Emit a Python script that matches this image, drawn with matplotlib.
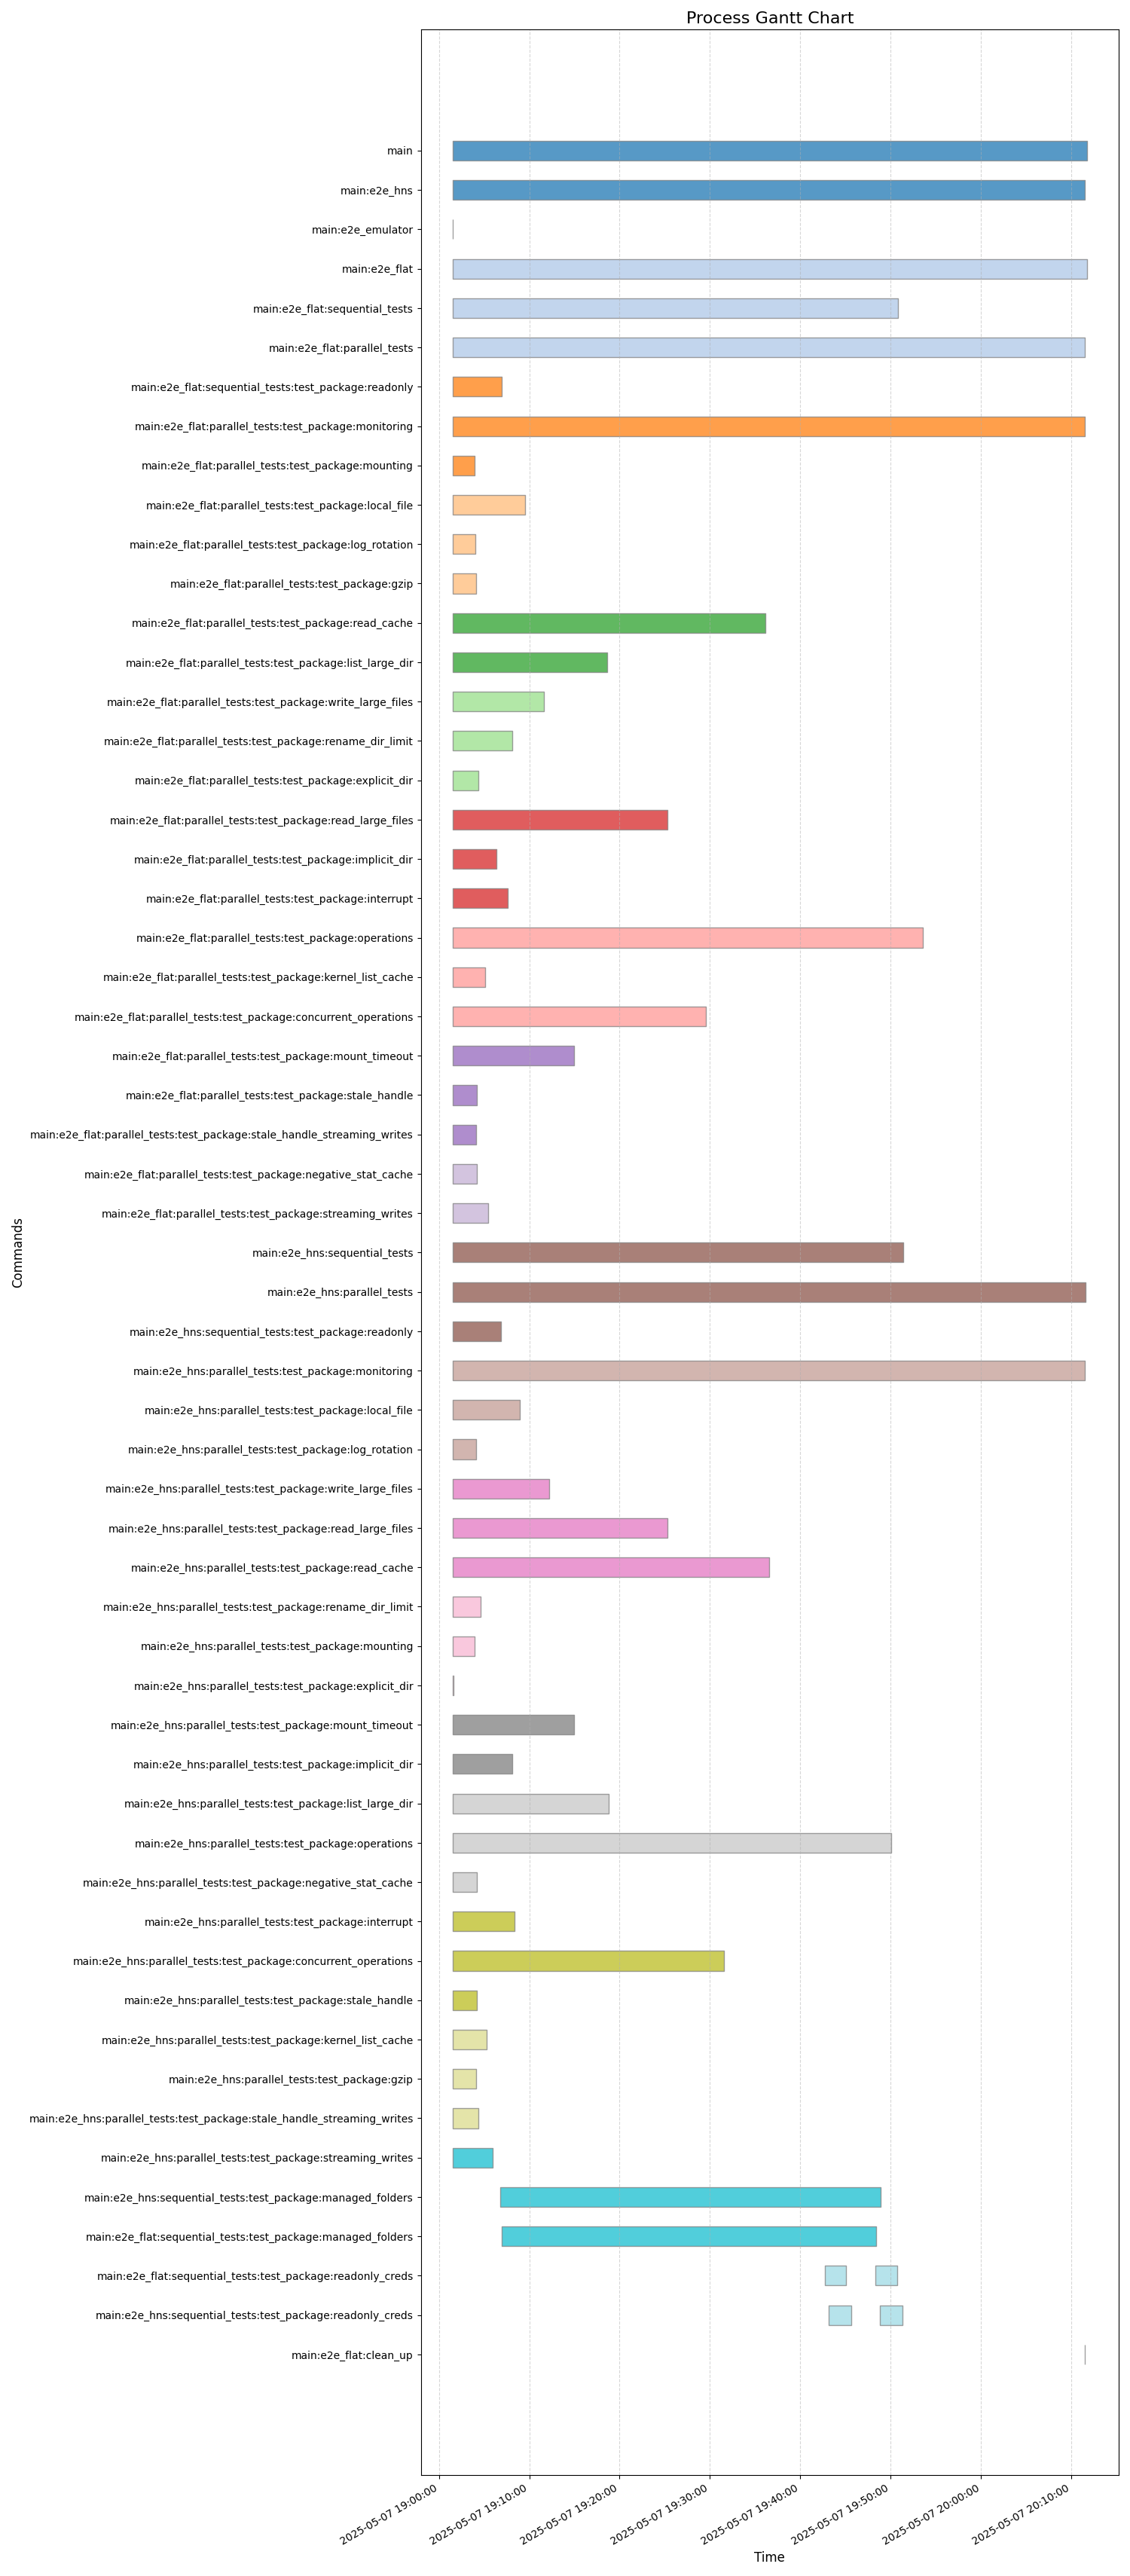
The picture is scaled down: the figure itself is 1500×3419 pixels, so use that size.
import matplotlib
matplotlib.use("Agg")
import matplotlib.pyplot as plt
import matplotlib.dates as mdates
import numpy as np
import pandas as pd

DAY = "2025-05-07 "

commands = [
    "main",
    "main:e2e_hns",
    "main:e2e_emulator",
    "main:e2e_flat",
    "main:e2e_flat:sequential_tests",
    "main:e2e_flat:parallel_tests",
    "main:e2e_flat:sequential_tests:test_package:readonly",
    "main:e2e_flat:parallel_tests:test_package:monitoring",
    "main:e2e_flat:parallel_tests:test_package:mounting",
    "main:e2e_flat:parallel_tests:test_package:local_file",
    "main:e2e_flat:parallel_tests:test_package:log_rotation",
    "main:e2e_flat:parallel_tests:test_package:gzip",
    "main:e2e_flat:parallel_tests:test_package:read_cache",
    "main:e2e_flat:parallel_tests:test_package:list_large_dir",
    "main:e2e_flat:parallel_tests:test_package:write_large_files",
    "main:e2e_flat:parallel_tests:test_package:rename_dir_limit",
    "main:e2e_flat:parallel_tests:test_package:explicit_dir",
    "main:e2e_flat:parallel_tests:test_package:read_large_files",
    "main:e2e_flat:parallel_tests:test_package:implicit_dir",
    "main:e2e_flat:parallel_tests:test_package:interrupt",
    "main:e2e_flat:parallel_tests:test_package:operations",
    "main:e2e_flat:parallel_tests:test_package:kernel_list_cache",
    "main:e2e_flat:parallel_tests:test_package:concurrent_operations",
    "main:e2e_flat:parallel_tests:test_package:mount_timeout",
    "main:e2e_flat:parallel_tests:test_package:stale_handle",
    "main:e2e_flat:parallel_tests:test_package:stale_handle_streaming_writes",
    "main:e2e_flat:parallel_tests:test_package:negative_stat_cache",
    "main:e2e_flat:parallel_tests:test_package:streaming_writes",
    "main:e2e_hns:sequential_tests",
    "main:e2e_hns:parallel_tests",
    "main:e2e_hns:sequential_tests:test_package:readonly",
    "main:e2e_hns:parallel_tests:test_package:monitoring",
    "main:e2e_hns:parallel_tests:test_package:local_file",
    "main:e2e_hns:parallel_tests:test_package:log_rotation",
    "main:e2e_hns:parallel_tests:test_package:write_large_files",
    "main:e2e_hns:parallel_tests:test_package:read_large_files",
    "main:e2e_hns:parallel_tests:test_package:read_cache",
    "main:e2e_hns:parallel_tests:test_package:rename_dir_limit",
    "main:e2e_hns:parallel_tests:test_package:mounting",
    "main:e2e_hns:parallel_tests:test_package:explicit_dir",
    "main:e2e_hns:parallel_tests:test_package:mount_timeout",
    "main:e2e_hns:parallel_tests:test_package:implicit_dir",
    "main:e2e_hns:parallel_tests:test_package:list_large_dir",
    "main:e2e_hns:parallel_tests:test_package:operations",
    "main:e2e_hns:parallel_tests:test_package:negative_stat_cache",
    "main:e2e_hns:parallel_tests:test_package:interrupt",
    "main:e2e_hns:parallel_tests:test_package:concurrent_operations",
    "main:e2e_hns:parallel_tests:test_package:stale_handle",
    "main:e2e_hns:parallel_tests:test_package:kernel_list_cache",
    "main:e2e_hns:parallel_tests:test_package:gzip",
    "main:e2e_hns:parallel_tests:test_package:stale_handle_streaming_writes",
    "main:e2e_hns:parallel_tests:test_package:streaming_writes",
    "main:e2e_hns:sequential_tests:test_package:managed_folders",
    "main:e2e_flat:sequential_tests:test_package:managed_folders",
    "main:e2e_flat:sequential_tests:test_package:readonly_creds",
    "main:e2e_hns:sequential_tests:test_package:readonly_creds",
    "main:e2e_flat:clean_up",
]

# One entry per bar segment: command index, start, end
seg_rows = [0, 1, 2, 3, 4, 5, 6, 7, 8, 9, 10, 11, 12, 13, 14, 15, 16, 17, 18, 19,
            20, 21, 22, 23, 24, 25, 26, 27, 28, 29, 30, 31, 32, 33, 34, 35, 36, 37,
            38, 39, 40, 41, 42, 43, 44, 45, 46, 47, 48, 49, 50, 51, 52, 53,
            54, 54, 55, 55, 56]
seg_start = [
    "19:01:31", "19:01:31", "19:01:31", "19:01:31", "19:01:34", "19:01:34",
    "19:01:34", "19:01:34", "19:01:34", "19:01:34", "19:01:34", "19:01:34",
    "19:01:34", "19:01:34", "19:01:34", "19:01:34", "19:01:34", "19:01:34",
    "19:01:34", "19:01:34", "19:01:34", "19:01:34", "19:01:34", "19:01:34",
    "19:01:34", "19:01:34", "19:01:34", "19:01:34", "19:01:31", "19:01:31",
    "19:01:31", "19:01:34", "19:01:34", "19:01:34", "19:01:34", "19:01:34",
    "19:01:34", "19:01:34", "19:01:34", "19:01:34", "19:01:34", "19:01:34",
    "19:01:34", "19:01:34", "19:01:34", "19:01:34", "19:01:34", "19:01:34",
    "19:01:34", "19:01:34", "19:01:34", "19:01:34", "19:06:46", "19:06:57",
    "19:42:41", "19:48:19", "19:43:09", "19:48:49", "20:11:28",
]
seg_end = [
    "20:11:43", "20:11:31", "19:01:33", "20:11:43", "19:50:47", "20:11:31",
    "19:06:59", "20:11:31", "19:03:57", "19:09:31", "19:04:00", "19:04:06",
    "19:36:10", "19:18:37", "19:11:38", "19:08:08", "19:04:21", "19:25:20",
    "19:06:22", "19:07:35", "19:53:34", "19:05:07", "19:29:35", "19:14:55",
    "19:04:12", "19:04:06", "19:04:12", "19:05:28", "19:51:23", "20:11:34",
    "19:06:50", "20:11:31", "19:08:57", "19:04:06", "19:12:11", "19:25:20",
    "19:36:31", "19:04:36", "19:03:57", "19:01:37", "19:14:55", "19:08:05",
    "19:18:46", "19:50:02", "19:04:12", "19:08:21", "19:31:31", "19:04:12",
    "19:05:19", "19:04:06", "19:04:21", "19:05:58", "19:48:54", "19:48:21",
    "19:45:02", "19:50:43", "19:45:39", "19:51:20", "20:11:31",
]

starts = pd.to_datetime([DAY + s for s in seg_start])
ends = pd.to_datetime([DAY + s for s in seg_end])

n = len(commands)
colors = plt.cm.tab20(np.linspace(0, 1, n))

fig, ax = plt.subplots(figsize=(15, 34.19), dpi=100)

bar_h = 0.5
for r, s, e in zip(seg_rows, starts, ends):
    s_num = mdates.date2num(s)
    e_num = mdates.date2num(e)
    ax.broken_barh([(s_num, e_num - s_num)], (r - bar_h / 2, bar_h),
                   facecolors=colors[r], edgecolors='grey', alpha=0.75)

ax.set_yticks(range(n))
ax.set_yticklabels(commands)
ax.invert_yaxis()

ax.xaxis_date()
ax.xaxis.set_major_locator(mdates.MinuteLocator(byminute=[0, 10, 20, 30, 40, 50]))
ax.xaxis.set_major_formatter(mdates.DateFormatter('%Y-%m-%d %H:%M:%S'))
fig.autofmt_xdate()

ax.set_xlabel('Time', fontsize=12)
ax.set_ylabel('Commands', fontsize=12)
ax.set_title('Process Gantt Chart', fontsize=16)
ax.grid(axis='x', linestyle='--', alpha=0.5)

plt.tight_layout()
fig.savefig('out.png', dpi=100)
